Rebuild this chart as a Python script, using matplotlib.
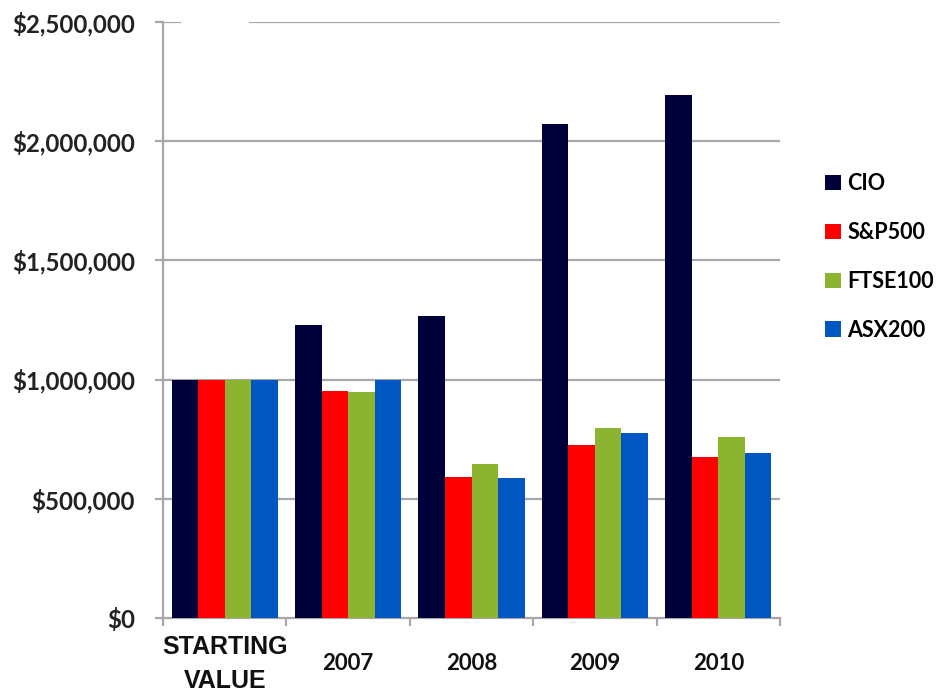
import matplotlib.pyplot as plt
from matplotlib.patches import Patch
import numpy as np

# values (dollars)
categories = ["STARTING\nVALUE", "2007", "2008", "2009", "2010"]
series = ["CIO", "S&P500", "FTSE100", "ASX200"]
cio = [1000000, 1230000, 1268000, 2072000, 2193000]
sp500 = [1000000, 951000, 590000, 725000, 677000]
ftse100 = [1000000, 948000, 647000, 796000, 761000]
asx200 = [1000000, 998000, 588000, 775000, 690000]
yticks = [0, 500000, 1000000, 1500000, 2000000, 2500000]

colors = ["#00003a", "#ff0000", "#8cb431", "#0057c2"]
grid_col = "#a8a8a8"
lab_font = "Lato"

fig = plt.figure(figsize=(9.4, 6.96), dpi=100)
ax = fig.add_axes([0.1734, 0.1121, 0.6564, 0.8563])

x = np.arange(len(categories))
w = 0.215
data = [cio, sp500, ftse100, asx200]
for i, vals in enumerate(data):
    ax.bar(x + (i - 1.5) * w, vals, w, color=colors[i], zorder=3)

ax.set_xlim(-0.5, len(categories) - 0.5)
ax.set_ylim(0, 2500000)

# gridlines (top one has a gap, as in the picture)
for t in yticks[1:-1]:
    ax.axhline(t, color=grid_col, lw=1.6, zorder=1)
ax.axhline(yticks[-1], xmin=(250 - 163) / 617, xmax=1, color=grid_col, lw=1.6, zorder=1)
ax.axhline(yticks[-1], xmin=0, xmax=(180 - 163) / 617, color=grid_col, lw=1.6, zorder=1)

for s in ["top", "right"]:
    ax.spines[s].set_visible(False)
for s in ["left", "bottom"]:
    ax.spines[s].set_color(grid_col)
    ax.spines[s].set_linewidth(1.6)

ax.set_yticks(yticks)
ax.set_yticklabels(["${:,}".format(t) for t in yticks],
                   fontfamily=lab_font, fontweight="bold", fontsize=17.3, color="#222222")
ax.tick_params(axis="y", length=6, width=1.6, color=grid_col, pad=14)

ax.set_xticks(x)
ax.set_xticklabels(categories)
ax.set_xticks(np.arange(-0.5, len(categories)), minor=True)
ax.tick_params(axis="x", which="major", length=0, pad=33)
ax.tick_params(axis="x", which="minor", length=6, width=1.6, color=grid_col)
for i, lab in enumerate(ax.get_xticklabels()):
    lab.set_va("center")
    lab.set_fontweight("bold")
    lab.set_color("#111111")
    if i == 0:
        lab.set_fontfamily("Liberation Sans")
        lab.set_fontsize(18)
        lab.set_linespacing(1.5)
    else:
        lab.set_fontfamily(lab_font)
        lab.set_fontsize(16)

handles = [Patch(facecolor=c, label=s) for c, s in zip(colors, series)]
fig.legend(handles=handles, loc="upper left", bbox_to_anchor=(0.866, 0.767),
           frameon=False, borderpad=0, labelspacing=1.3, handlelength=0.75,
           handleheight=0.75, handletextpad=0.3,
           prop={"family": lab_font, "weight": "bold", "size": 15.5})

fig.savefig("out.png", dpi=100)
